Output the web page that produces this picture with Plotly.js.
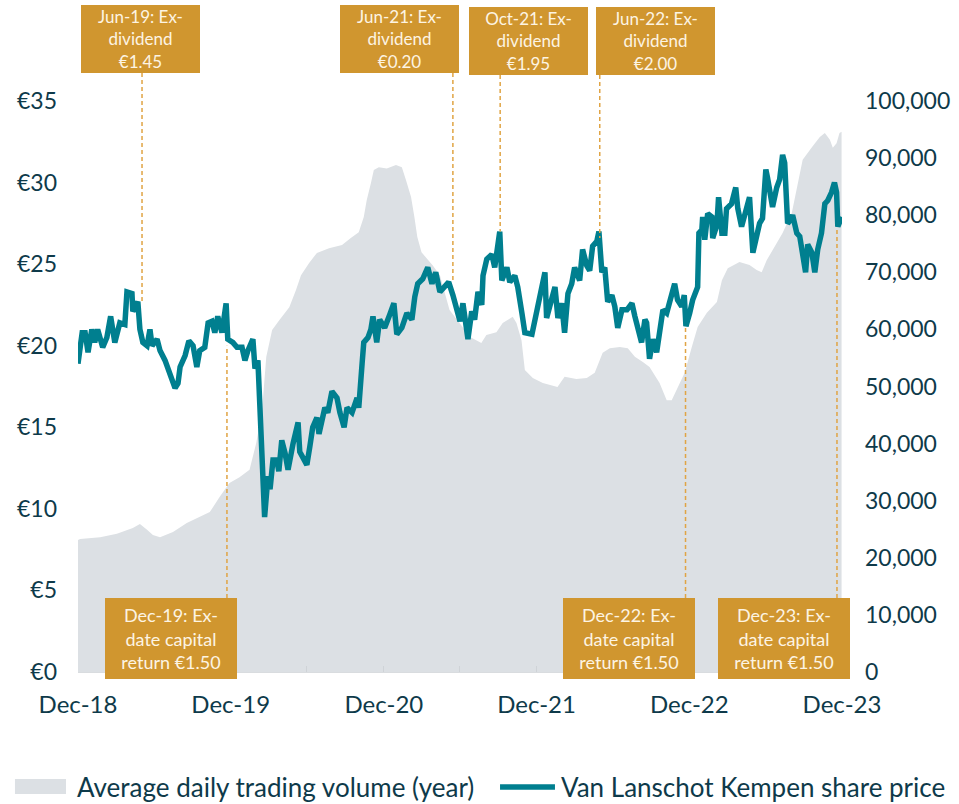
<!DOCTYPE html>
<html>
<head>
<meta charset="utf-8">
<script src="https://cdn.plot.ly/plotly-3.0.1.min.js"></script>
<style>
  html, body { margin: 0; padding: 0; background: #fff; }
  #chart { width: 959px; height: 804px; }
</style>
</head>
<body>
<div id="chart"></div>
<script>
// Van Lanschot Kempen share price (EUR)
const priceDates = [
  "2018-12-31", "2019-01-10", "2019-01-17", "2019-01-24", "2019-02-02", "2019-02-09", "2019-02-16", "2019-02-28",
  "2019-03-10", "2019-03-19", "2019-03-29", "2019-04-10", "2019-04-22", "2019-04-27", "2019-05-09", "2019-05-11",
  "2019-05-23", "2019-05-28", "2019-06-04", "2019-06-14", "2019-06-21", "2019-06-26", "2019-07-08", "2019-07-15",
  "2019-07-27", "2019-08-08", "2019-08-20", "2019-08-27", "2019-09-01", "2019-09-13", "2019-09-22", "2019-10-02",
  "2019-10-11", "2019-10-18", "2019-10-30", "2019-11-07", "2019-11-16", "2019-11-23", "2019-11-30", "2019-12-10",
  "2019-12-20", "2019-12-24", "2020-01-05", "2020-01-15", "2020-01-27", "2020-02-03", "2020-02-10", "2020-02-22",
  "2020-02-27", "2020-03-05", "2020-03-12", "2020-03-21", "2020-03-29", "2020-04-03", "2020-04-10", "2020-04-19",
  "2020-04-24", "2020-05-01", "2020-05-09", "2020-05-16", "2020-05-28", "2020-06-09", "2020-06-13", "2020-06-30",
  "2020-07-07", "2020-07-14", "2020-07-24", "2020-07-29", "2020-08-12", "2020-08-19", "2020-08-29", "2020-09-10",
  "2020-09-17", "2020-09-27", "2020-10-04", "2020-10-16", "2020-10-28", "2020-11-01", "2020-11-09", "2020-11-13",
  "2020-11-23", "2020-11-30", "2020-12-05", "2020-12-14", "2020-12-21", "2021-01-02", "2021-01-14", "2021-01-24",
  "2021-01-31", "2021-02-12", "2021-02-24", "2021-03-08", "2021-03-15", "2021-03-22", "2021-04-03", "2021-04-15",
  "2021-04-25", "2021-05-04", "2021-05-14", "2021-05-26", "2021-06-04", "2021-06-14", "2021-06-23", "2021-07-01",
  "2021-07-08", "2021-07-13", "2021-07-20", "2021-07-29", "2021-08-05", "2021-08-13", "2021-08-22", "2021-08-25",
  "2021-09-03", "2021-09-15", "2021-09-22", "2021-10-04", "2021-10-09", "2021-10-21", "2021-10-28", "2021-11-09",
  "2021-11-16", "2021-11-26", "2021-12-03", "2021-12-20", "2021-12-27", "2022-01-08", "2022-01-20", "2022-01-24",
  "2022-02-05", "2022-02-13", "2022-02-20", "2022-03-01", "2022-03-08", "2022-03-16", "2022-03-25", "2022-04-01",
  "2022-04-13", "2022-04-20", "2022-04-30", "2022-05-07", "2022-05-14", "2022-05-24", "2022-05-29", "2022-06-05",
  "2022-06-12", "2022-06-19", "2022-06-29", "2022-07-06", "2022-07-13", "2022-07-23", "2022-08-04", "2022-08-16",
  "2022-08-23", "2022-08-30", "2022-09-08", "2022-09-16", "2022-09-20", "2022-09-27", "2022-10-05", "2022-10-14",
  "2022-10-21", "2022-10-29", "2022-11-07", "2022-11-14", "2022-11-26", "2022-12-03", "2022-12-13", "2022-12-19",
  "2022-12-23", "2023-01-01", "2023-01-08", "2023-01-20", "2023-01-23", "2023-01-30", "2023-02-01", "2023-02-06",
  "2023-02-13", "2023-02-23", "2023-02-25", "2023-03-07", "2023-03-11", "2023-03-19", "2023-03-26", "2023-03-30",
  "2023-04-11", "2023-04-21", "2023-04-26", "2023-05-05", "2023-05-12", "2023-05-24", "2023-06-01", "2023-06-10",
  "2023-06-17", "2023-06-24", "2023-07-02", "2023-07-06", "2023-07-14", "2023-07-18", "2023-07-28", "2023-08-04",
  "2023-08-11", "2023-08-16", "2023-08-23", "2023-08-30", "2023-09-04", "2023-09-14", "2023-09-21", "2023-09-28",
  "2023-10-05", "2023-10-10", "2023-10-20", "2023-10-27", "2023-11-03", "2023-11-12", "2023-11-20", "2023-11-27",
  "2023-12-06", "2023-12-13", "2023-12-18", "2023-12-21", "2023-12-30"
];
const priceValues = [
  18.9, 20.8, 20.8, 19.6, 21.0, 20.2, 21.0, 19.9,
  20.5, 21.8, 20.2, 21.4, 21.3, 23.3, 23.2, 22.1,
  22.7, 21.0, 20.2, 20.0, 21.0, 20.0, 20.4, 19.7,
  19.1, 18.3, 17.4, 17.7, 18.7, 19.4, 20.3, 20.0,
  18.7, 19.7, 19.9, 21.4, 21.5, 20.8, 21.8, 20.8,
  22.6, 20.4, 20.2, 19.9, 19.9, 19.1, 19.7, 20.4,
  18.6, 19.1, 14.6, 9.5, 12.0, 11.2, 13.0, 13.0,
  12.3, 14.2, 13.4, 12.4, 14.0, 15.3, 13.5, 12.7,
  13.8, 15.0, 15.6, 14.6, 16.2, 15.9, 17.2, 16.8,
  15.9, 15.0, 16.2, 15.9, 16.8, 16.2, 18.9, 20.2,
  20.5, 21.0, 21.8, 20.2, 21.6, 21.1, 21.9, 22.6,
  20.7, 21.1, 22.0, 21.6, 23.0, 23.8, 24.1, 24.8,
  23.8, 24.5, 23.3, 23.6, 23.9, 23.1, 22.2, 21.5,
  22.6, 21.5, 20.4, 22.1, 21.6, 23.3, 22.5, 24.3,
  25.3, 25.6, 24.8, 27.0, 24.0, 24.8, 23.9, 24.3,
  23.6, 22.0, 20.8, 20.7, 21.6, 23.0, 24.5, 21.7,
  22.8, 23.6, 21.7, 22.6, 20.8, 23.2, 23.8, 24.8,
  24.0, 25.9, 24.9, 24.6, 26.1, 26.4, 27.0, 24.5,
  24.8, 22.7, 23.1, 22.4, 21.1, 22.2, 22.2, 22.6,
  21.8, 21.1, 20.2, 21.6, 21.4, 19.2, 20.4, 19.6,
  20.8, 22.2, 22.0, 22.7, 23.8, 22.8, 22.4, 23.1,
  21.2, 22.0, 22.8, 23.6, 26.9, 27.1, 27.9, 26.5,
  28.1, 27.9, 26.6, 27.4, 29.1, 26.9, 26.9, 28.4,
  28.7, 29.7, 28.4, 27.3, 27.9, 29.1, 25.7, 26.9,
  27.5, 27.8, 30.8, 30.3, 28.7, 28.5, 29.7, 30.2,
  31.7, 31.2, 27.5, 27.7, 28.0, 26.9, 26.7, 25.4,
  24.5, 26.2, 25.7, 24.5, 25.9, 26.9, 28.7, 28.9,
  29.4, 30.0, 29.4, 27.3, 27.9
];

// Average daily trading volume (year), shares
const volumeDates = [
  "2018-12-31", "2019-01-05", "2019-02-22", "2019-04-03", "2019-05-11", "2019-05-28", "2019-06-14", "2019-06-28",
  "2019-07-15", "2019-08-15", "2019-09-17", "2019-10-18", "2019-11-11", "2019-12-04", "2019-12-28", "2020-01-21",
  "2020-02-14", "2020-03-01", "2020-03-15", "2020-03-25", "2020-04-08", "2020-04-25", "2020-05-19", "2020-06-04",
  "2020-06-16", "2020-07-05", "2020-07-24", "2020-08-22", "2020-09-22", "2020-10-13", "2020-11-01", "2020-11-13",
  "2020-11-20", "2020-11-30", "2020-12-07", "2020-12-19", "2021-01-07", "2021-01-29", "2021-02-12", "2021-02-22",
  "2021-03-06", "2021-03-14", "2021-03-21", "2021-03-31", "2021-04-12", "2021-04-26", "2021-05-14", "2021-06-06",
  "2021-06-30", "2021-07-24", "2021-08-21", "2021-09-02", "2021-09-26", "2021-10-11", "2021-11-04", "2021-11-13",
  "2021-11-25", "2021-12-03", "2021-12-22", "2022-01-15", "2022-02-19", "2022-03-08", "2022-04-05", "2022-04-30",
  "2022-05-19", "2022-06-07", "2022-06-24", "2022-07-18", "2022-08-06", "2022-08-23", "2022-09-11", "2022-09-27",
  "2022-10-21", "2022-11-07", "2022-11-19", "2022-12-03", "2022-12-20", "2023-01-06", "2023-01-20", "2023-02-11",
  "2023-03-07", "2023-03-19", "2023-04-02", "2023-04-30", "2023-05-24", "2023-06-10", "2023-06-22", "2023-07-04",
  "2023-07-18", "2023-08-11", "2023-09-02", "2023-09-14", "2023-09-28", "2023-10-20", "2023-11-08", "2023-11-20",
  "2023-12-02", "2023-12-09", "2023-12-18", "2023-12-25", "2023-12-30"
];
const volumeValues = [
  23100, 23300, 23600, 24200, 25200, 25900, 24900, 24000,
  23600, 24500, 26100, 27100, 28000, 30600, 33100, 34100,
  35400, 40100, 45900, 55200, 59900, 61600, 63900, 66900,
  69500, 71600, 73400, 74200, 74800, 76000, 77000, 79700,
  82600, 85600, 87900, 88400, 88200, 88800, 88400, 86100,
  83200, 79700, 76200, 73500, 72500, 71300, 69500, 63400,
  61100, 58700, 57600, 59000, 59500, 61100, 62200, 61100,
  58100, 52900, 51500, 50600, 49900, 51700, 51300, 51500,
  52400, 55900, 56700, 56900, 56700, 55200, 54300, 53400,
  50600, 47600, 47600, 49900, 52400, 56900, 60400, 62900,
  64800, 68600, 70700, 71800, 71300, 70400, 70000, 72100,
  73900, 76900, 80400, 84900, 89700, 91900, 93700, 94400,
  93200, 91800, 92600, 94400, 94600
];

const xTickDates = ["2018-12-31", "2019-12-31", "2020-12-31", "2021-12-31", "2022-12-31", "2023-12-31"];
const xTickLabels = ["Dec-18", "Dec-19", "Dec-20", "Dec-21", "Dec-22", "Dec-23"];
const xMinorDates = ["2019-06-30", "2020-06-30", "2021-06-30", "2022-06-30", "2023-06-30"];

// Corporate events: date of the marker line and the share price it reaches
const eventDates = ["2019-06-02", "2019-12-22", "2021-06-14", "2021-10-05", "2022-05-31", "2022-12-22", "2023-12-19"];
const eventPrices = [22.7, 20.0, 23.9, 27.0, 26.6, 21.1, 27.1];
const eventTexts = [
  "Jun-19: Ex-<br>dividend<br>€1.45",
  "Dec-19: Ex-<br>date capital<br>return €1.50",
  "Jun-21: Ex-<br>dividend<br>€0.20",
  "Oct-21: Ex-<br>dividend<br>€1.95",
  "Jun-22: Ex-<br>dividend<br>€2.00",
  "Dec-22: Ex-<br>date capital<br>return €1.50",
  "Dec-23: Ex-<br>date capital<br>return €1.50"
];

// where each label box sits (paper coords), kept apart from the data
const boxSlots = [
  { x: 0.0812, top: 1.168, bottom: 1.049, above: true },
  { x: 0.1217, top: 0.1296, above: false },
  { x: 0.4202, top: 1.168, bottom: 1.049, above: true },
  { x: 0.5903, top: 1.1646, bottom: 1.0455, above: true },
  { x: 0.7565, top: 1.1646, bottom: 1.0455, above: true },
  { x: 0.7212, top: 0.1296, above: false },
  { x: 0.9241, top: 0.1296, above: false }
];

const PRICE_MAX = 35;
const VOLUME_MAX = 100000;
const ink = "#0e3a4a";
const gold = "#d0962f";
const dashGold = "#e0a444";
const areaGrey = "#dce0e4";
const teal = "#007f8f";

const volumeName = "Average daily trading volume (year)";
const priceName = "Van Lanschot Kempen share price";

const traces = [
  {
    type: "scatter",
    mode: "lines",
    name: volumeName,
    x: volumeDates,
    y: volumeValues,
    yaxis: "y",
    fill: "tozeroy",
    fillcolor: areaGrey,
    line: { width: 0, color: areaGrey },
    hoverinfo: "skip"
  },
  {
    type: "scatter",
    mode: "lines",
    name: priceName,
    x: priceDates,
    y: priceValues,
    yaxis: "y2",
    line: { color: teal, width: 5.5 },
    hovertemplate: "%{x|%d %b %Y}<br>€%{y:.2f}<extra></extra>"
  }
];

const shapes = eventDates.map((d, i) => {
  const slot = boxSlots[i];
  const atPrice = eventPrices[i] / PRICE_MAX;
  return {
    type: "line",
    xref: "x",
    yref: "paper",
    x0: d,
    x1: d,
    y0: slot.above ? slot.bottom : slot.top,
    y1: atPrice,
    line: { color: dashGold, width: 1.5, dash: "4px,3px" },
    layer: "above"
  };
});

// hand-built legend below the plot (the plotly legend wraps at this font size)
const legendY = -0.2014;
shapes.push(
  { type: "rect", xref: "paper", yref: "paper", x0: -0.0825, x1: -0.0157, y0: -0.2137, y1: -0.1873,
    fillcolor: areaGrey, line: { width: 0 } },
  { type: "line", xref: "paper", yref: "paper", x0: 0.5524, x1: 0.6243, y0: legendY, y1: legendY,
    line: { color: teal, width: 5.5 } }
);

const annotations = eventTexts.map((t, i) => {
  const slot = boxSlots[i];
  const big = !slot.above;
  return {
    xref: "paper",
    yref: "paper",
    x: slot.x,
    y: slot.top,
    xanchor: "center",
    yanchor: "top",
    text: t,
    showarrow: false,
    align: "center",
    bgcolor: gold,
    borderpad: 2,
    borderwidth: 0,
    width: big ? 128 : 115,
    height: big ? 77 : 64,
    valign: "middle",
    font: { family: "Lato, sans-serif", size: big ? 18 : 17, color: "#fdf4e3" }
  };
});

[[volumeName, -0.004], [priceName, 0.6295]].forEach(([label, x]) => {
  annotations.push({
    xref: "paper", yref: "paper", x: x, y: legendY,
    xanchor: "left", yanchor: "middle",
    text: label, showarrow: false,
    font: { family: "Lato, sans-serif", size: 26, color: ink }
  });
});

const layout = {
  width: 959,
  height: 804,
  margin: { l: 78, r: 117, t: 101, b: 132, autoexpand: false },
  paper_bgcolor: "#ffffff",
  plot_bgcolor: "rgba(0,0,0,0)",
  font: { family: "Lato, sans-serif", color: ink, size: 23 },
  showlegend: false,
  xaxis: {
    type: "date",
    range: ["2018-12-31", "2023-12-31"],
    tickmode: "array",
    tickvals: xTickDates,
    ticktext: xTickLabels,
    ticks: "inside",
    ticklen: 6,
    tickcolor: "#cfd3d7",
    showline: true,
    linecolor: "#d9dcdf",
    linewidth: 1,
    showgrid: false,
    zeroline: false,
    ticklabelstandoff: 11,
    minor: { tickvals: xMinorDates, ticks: "inside", ticklen: 6, tickcolor: "#cfd3d7", showgrid: false },
    tickfont: { size: 24, color: ink },
    fixedrange: true
  },
  yaxis: {
    side: "right",
    range: [0, VOLUME_MAX],
    dtick: 10000,
    tickformat: ",d",
    showgrid: false,
    zeroline: false,
    showline: false,
    ticks: "",
    ticklabelstandoff: 22,
    tickfont: { size: 23, color: ink },
    fixedrange: true
  },
  yaxis2: {
    overlaying: "y",
    side: "left",
    range: [0, PRICE_MAX],
    dtick: 5,
    tickprefix: "€",
    showgrid: false,
    zeroline: false,
    showline: false,
    ticks: "",
    ticklabelstandoff: 20,
    tickfont: { size: 23, color: ink },
    fixedrange: true
  },
  shapes: shapes,
  annotations: annotations
};

Plotly.newPlot("chart", traces, layout, { displayModeBar: false, responsive: false });
</script>
</body>
</html>
